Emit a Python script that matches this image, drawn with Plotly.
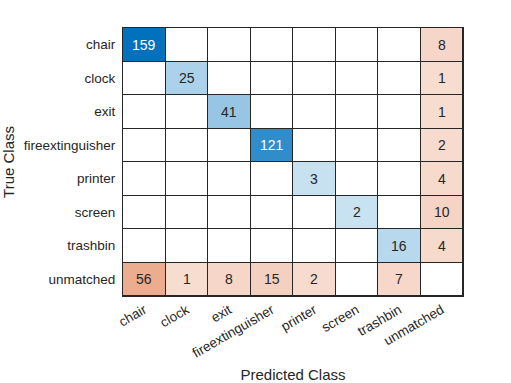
import plotly.graph_objects as go

classes = ["chair", "clock", "exit", "fireextinguisher", "printer", "screen", "trashbin", "unmatched"]
# rows = true class, columns = predicted class
counts = [
    [159, 0, 0, 0, 0, 0, 0, 8],
    [0, 25, 0, 0, 0, 0, 0, 1],
    [0, 0, 41, 0, 0, 0, 0, 1],
    [0, 0, 0, 121, 0, 0, 0, 2],
    [0, 0, 0, 0, 3, 0, 0, 4],
    [0, 0, 0, 0, 0, 2, 0, 10],
    [0, 0, 0, 0, 0, 0, 16, 4],
    [56, 1, 8, 15, 2, 0, 7, 0],
]

n = len(classes)
vmax = max(max(r) for r in counts)

# signed values: diagonal positive (blue), off-diagonal negative (orange)
z = [[(counts[i][j] if i == j else -counts[i][j]) for j in range(n)] for i in range(n)]

blue = (0, 114, 189)
orange = (217, 83, 25)


def mix(c, a):
    return "rgb(%d,%d,%d)" % tuple(round(255 - (255 - v) * a) for v in c)


eps = 1e-4
colorscale = [
    [0.0, mix(orange, 1.0)],
    [0.5 - eps, mix(orange, 0.2)],
    [0.5 - eps / 2, "rgb(255,255,255)"],
    [0.5 + eps / 2, "rgb(255,255,255)"],
    [0.5 + eps, mix(blue, 0.2)],
    [1.0, mix(blue, 1.0)],
]

fig = go.Figure(
    go.Heatmap(
        z=z,
        x=classes,
        y=classes,
        zmin=-vmax,
        zmax=vmax,
        colorscale=colorscale,
        showscale=False,
        xgap=1,
        ygap=1,
        hoverinfo="skip",
    )
)

for i in range(n):
    for j in range(n):
        v = counts[i][j]
        if v == 0:
            continue
        a = 0.2 + 0.8 * v / vmax
        fig.add_annotation(
            x=classes[j], y=classes[i], text=str(v), showarrow=False,
            font=dict(size=14, color="white" if a > 0.7 else "#262626"),
        )

fig.update_layout(
    width=511, height=383,
    margin=dict(l=123, r=48, t=28, b=87),
    paper_bgcolor="white",
    plot_bgcolor="#262626",
    font=dict(family="Liberation Sans, Arial, sans-serif", size=13.5, color="#262626"),
    xaxis=dict(
        title=dict(text="Predicted Class", font=dict(size=15), standoff=11),
        tickangle=-30, showgrid=False, zeroline=False, automargin=False,
        tickfont=dict(size=13.5),
        showline=True, linecolor="#262626", linewidth=1, mirror=True,
        ticks="", range=[-0.5, n - 0.5],
    ),
    yaxis=dict(
        title=dict(text="True Class", font=dict(size=15), standoff=19),
        autorange="reversed", showgrid=False, zeroline=False, automargin=False,
        showline=True, linecolor="#262626", linewidth=1, mirror=True,
        ticks="", ticklabelstandoff=4,
    ),
)

fig.write_html(
    "out.html",
    config={"displayModeBar": False},
    post_script="document.body.style.margin='0';",
)
